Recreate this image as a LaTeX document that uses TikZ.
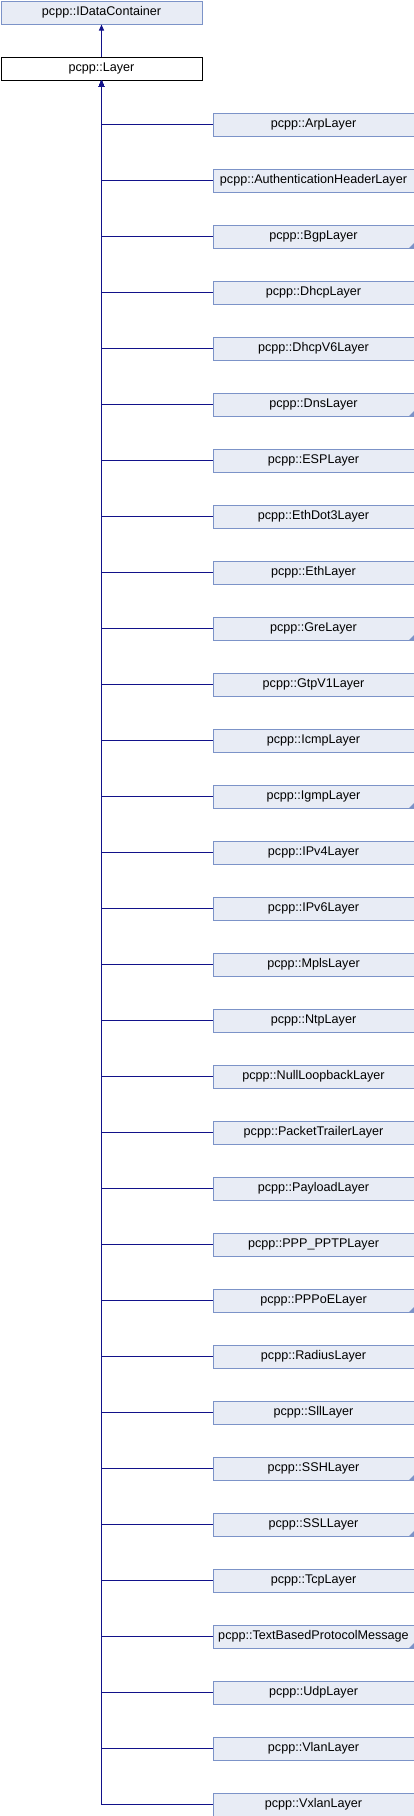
\documentclass[tikz,border=0pt]{standalone}
\usepackage{fontspec}
\setmainfont{Liberation Sans}
\usetikzlibrary{arrows.meta}
\definecolor{boxfill}{HTML}{E8ECF5}
\definecolor{boxline}{HTML}{7C93C8}
\definecolor{edgecol}{HTML}{12128A}
\tikzset{
  cls/.style={draw=boxline, fill=boxfill, line width=1pt, minimum width=201pt, minimum height=23pt, inner sep=0pt, anchor=north west, font=\fontsize{12.6}{15}\selectfont},
  cur/.style={cls, draw=black, fill=white},
  inh/.style={draw=edgecol, line width=1pt, -{Triangle[length=6pt,width=5pt]}},
  marker/.style={fill=boxline}
}
\begin{document}
\begin{tikzpicture}[x=1pt,y=-1pt]
\useasboundingbox (0,0) rectangle (414,1816);
\node[cls] (base) at (0.5,0.5) {pcpp::IDataContainer};
\node[cur] (layer) at (0.5,56.5) {pcpp::Layer};
\draw[inh] (layer.north) -- (base.south);
\foreach \name [count=\i from 0] in {ArpLayer,AuthenticationHeaderLayer,BgpLayer,DhcpLayer,DhcpV6Layer,DnsLayer,ESPLayer,EthDot3Layer,EthLayer,GreLayer,GtpV1Layer,IcmpLayer,IgmpLayer,IPv4Layer,IPv6Layer,MplsLayer,NtpLayer,NullLoopbackLayer,PacketTrailerLayer,PayloadLayer,PPP\_PPTPLayer,PPPoELayer,RadiusLayer,SllLayer,SSHLayer,SSLLayer,TcpLayer,TextBasedProtocolMessage,UdpLayer,VlanLayer,VxlanLayer}{
  \node[cls] (c\i) at (212.5,{112.5+56*\i}) {pcpp::\name};
  \draw[inh] (c\i.west) -| (layer.south);
}
\foreach \i in {2,5,9,12,21,24,25,27}{
  \fill[marker] ([xshift=-6pt]c\i.south east) -- (c\i.south east) -- ([yshift=6pt]c\i.south east) -- cycle;
}
\end{tikzpicture}
\end{document}
